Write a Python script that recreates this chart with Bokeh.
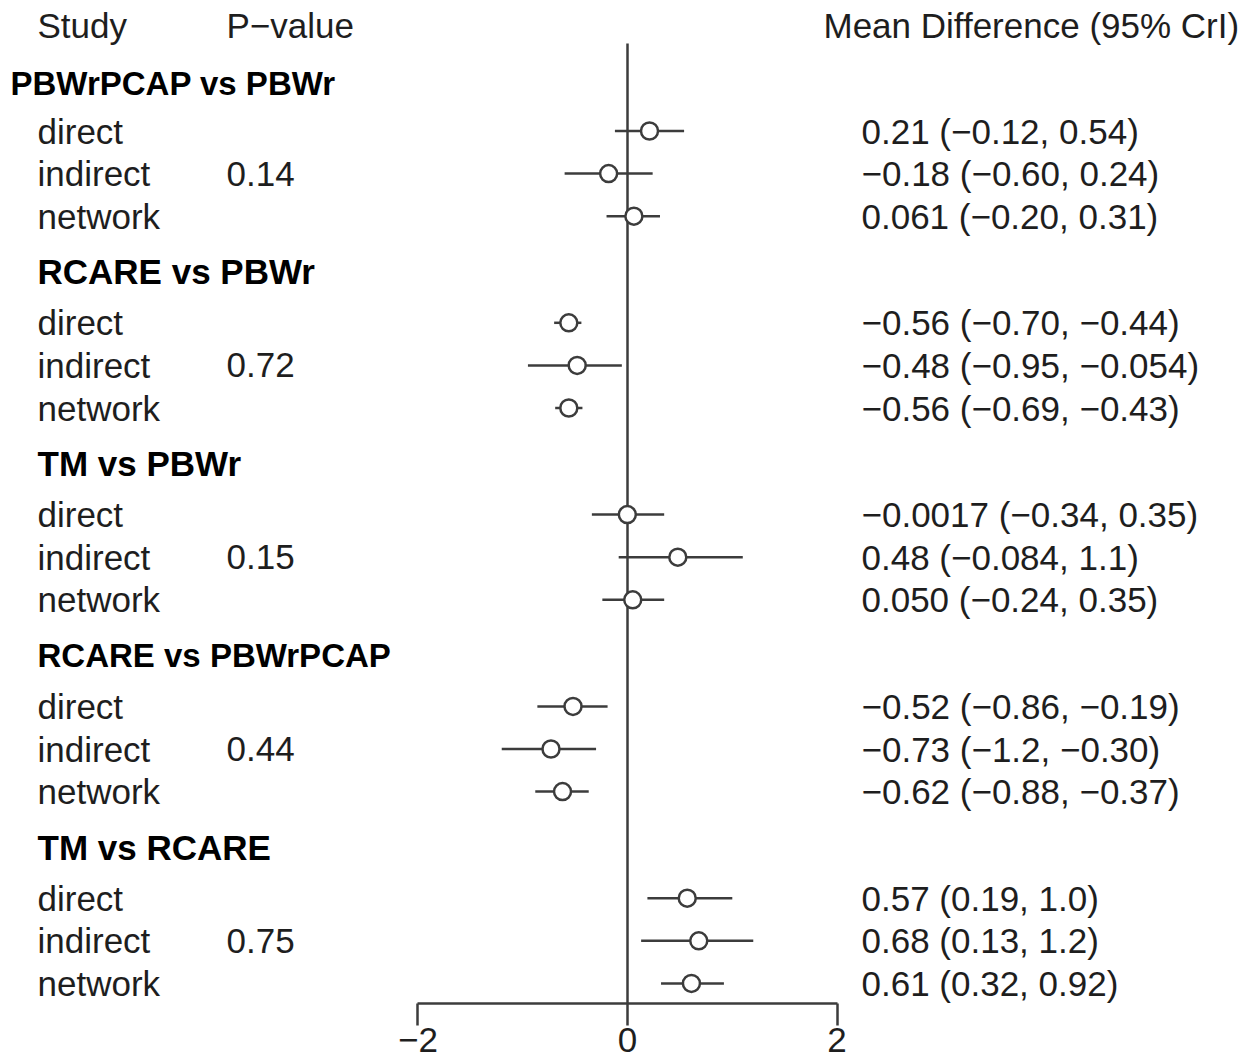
from bokeh.plotting import figure
from bokeh.models import Range1d, FixedTicker, ColumnDataSource
from bokeh.core.properties import value
from bokeh.embed import file_html
from bokeh.resources import INLINE

# Comparisons and their consistency-test p-values
comparisons = ["PBWrPCAP vs PBWr", "RCARE vs PBWr", "TM vs PBWr",
               "RCARE vs PBWrPCAP", "TM vs RCARE"]
p_values = ["0.14", "0.72", "0.15", "0.44", "0.75"]
evidence = ["direct", "indirect", "network"]

# Mean differences with 95% credible intervals, one list per comparison
md_mean = [[0.21, -0.18, 0.061],
           [-0.56, -0.48, -0.56],
           [-0.0017, 0.48, 0.050],
           [-0.52, -0.73, -0.62],
           [0.57, 0.68, 0.61]]
md_low = [[-0.12, -0.60, -0.20],
          [-0.70, -0.95, -0.69],
          [-0.34, -0.084, -0.24],
          [-0.86, -1.2, -0.88],
          [0.19, 0.13, 0.32]]
md_high = [[0.54, 0.24, 0.31],
           [-0.44, -0.054, -0.43],
           [0.35, 1.1, 0.35],
           [-0.19, -0.30, -0.37],
           [1.0, 1.2, 0.92]]
md_text = [["0.21 (\u22120.12, 0.54)", "\u22120.18 (\u22120.60, 0.24)", "0.061 (\u22120.20, 0.31)"],
           ["\u22120.56 (\u22120.70, \u22120.44)", "\u22120.48 (\u22120.95, \u22120.054)", "\u22120.56 (\u22120.69, \u22120.43)"],
           ["\u22120.0017 (\u22120.34, 0.35)", "0.48 (\u22120.084, 1.1)", "0.050 (\u22120.24, 0.35)"],
           ["\u22120.52 (\u22120.86, \u22120.19)", "\u22120.73 (\u22121.2, \u22120.30)", "\u22120.62 (\u22120.88, \u22120.37)"],
           ["0.57 (0.19, 1.0)", "0.68 (0.13, 1.2)", "0.61 (0.32, 0.92)"]]

x_ticks = [-2, 0, 2]
x_tick_labels = {-2: "\u22122", 0: "0", 2: "2"}

# ---- layout (vertical positions in pixels from the top) ----
W, H = 1255, 1062
FRAME_H = 1003
PX_PER_UNIT = 104.8
ZERO_PX = 627
FIRST_ROW = 130.5
ROW_PITCH = 42.6
GROUP_PITCH = 191.8
TITLE_GAP = 51

# x positions of text columns, in data units
def px_to_x(px):
    return (px - ZERO_PX) / PX_PER_UNIT

X_STUDY = px_to_x(37)
X_PVAL = px_to_x(226)
X_MD = px_to_x(861)
X_MD_HEAD = px_to_x(823)

rows = dict(y=[], mean=[], lo=[], hi=[], label=[], md=[])
titles = dict(y=[], x=[], label=[], size=[])
pvals = dict(y=[], label=[])
for g, name in enumerate(comparisons):
    y0 = FIRST_ROW + g * GROUP_PITCH
    titles["y"].append(y0 - TITLE_GAP + (3 if g == 0 else 0))
    titles["x"].append(px_to_x(10) if g == 0 else X_STUDY)
    titles["label"].append(name)
    # the longer titles are set a little tighter
    titles["size"].append("33px" if len(name) > 15 else "35px")
    for k, ev in enumerate(evidence):
        y = y0 + k * ROW_PITCH
        rows["y"].append(y)
        rows["mean"].append(md_mean[g][k])
        rows["lo"].append(md_low[g][k])
        rows["hi"].append(md_high[g][k])
        rows["label"].append(ev)
        rows["md"].append(md_text[g][k])
        if ev == "indirect":
            pvals["y"].append(y)
            pvals["label"].append(p_values[g])

src = ColumnDataSource(rows)

p = figure(width=W, height=H,
           x_range=Range1d(px_to_x(0), px_to_x(W)),
           y_range=Range1d(FRAME_H, 0),
           output_backend="svg", toolbar_location=None,
           min_border_left=0, min_border_right=0, min_border_top=0,
           min_border_bottom=H - FRAME_H,
           y_axis_location=None)
p.grid.visible = False
p.outline_line_color = None
p.background_fill_color = "white"
p.border_fill_color = "white"

LINE = "#3c3c3c"
TEXT = "#1e1e1e"
FONT = "Liberation Sans"
FS = "35px"

# x axis
ax = p.xaxis[0]
ax.ticker = FixedTicker(ticks=x_ticks)
ax.major_label_overrides = x_tick_labels
ax.bounds = (min(x_ticks), max(x_ticks))
ax.axis_line_color = LINE
ax.axis_line_width = 2.5
ax.major_tick_line_color = LINE
ax.major_tick_line_width = 2.5
ax.major_tick_in = 0
ax.major_tick_out = 22
ax.minor_tick_line_color = None
ax.major_label_standoff = 2
ax.major_label_text_font = FONT
ax.major_label_text_font_size = FS
ax.major_label_text_color = TEXT

# line of no effect
p.segment(x0=[0], y0=[43], x1=[0], y1=[FRAME_H], line_color=LINE, line_width=2.5)

# credible intervals and point estimates
p.segment(x0="lo", y0="y", x1="hi", y1="y", source=src, line_color=LINE, line_width=2.5)
p.scatter(x="mean", y="y", source=src, size=17, marker="circle",
          fill_color="white", line_color=LINE, line_width=2.5)

common = dict(text_font=value(FONT), text_baseline="middle", text_align="left")

# column headers
p.text(x=[X_STUDY, X_PVAL, X_MD_HEAD], y=[25, 25, 25],
       text=["Study", "P\u2212value", "Mean Difference (95% CrI)"],
       text_color=TEXT, text_font_size=value(FS), **common)

# comparison titles
p.text(x="x", y="y", text="label", source=ColumnDataSource(titles),
       text_font_size="size", text_font_style="bold", text_color="black", **common)

# evidence labels, p-values and estimates
p.text(x=X_STUDY, y="y", text="label", source=src, text_color=TEXT,
       text_font_size=value(FS), **common)
p.text(x=X_PVAL, y="y", text="label", source=ColumnDataSource(pvals),
       text_color=TEXT, text_font_size=value(FS), **common)
p.text(x=X_MD, y="y", text="md", source=src, text_color=TEXT,
       text_font_size=value(FS), **common)

open("out.html", "w").write(file_html(p, INLINE))
